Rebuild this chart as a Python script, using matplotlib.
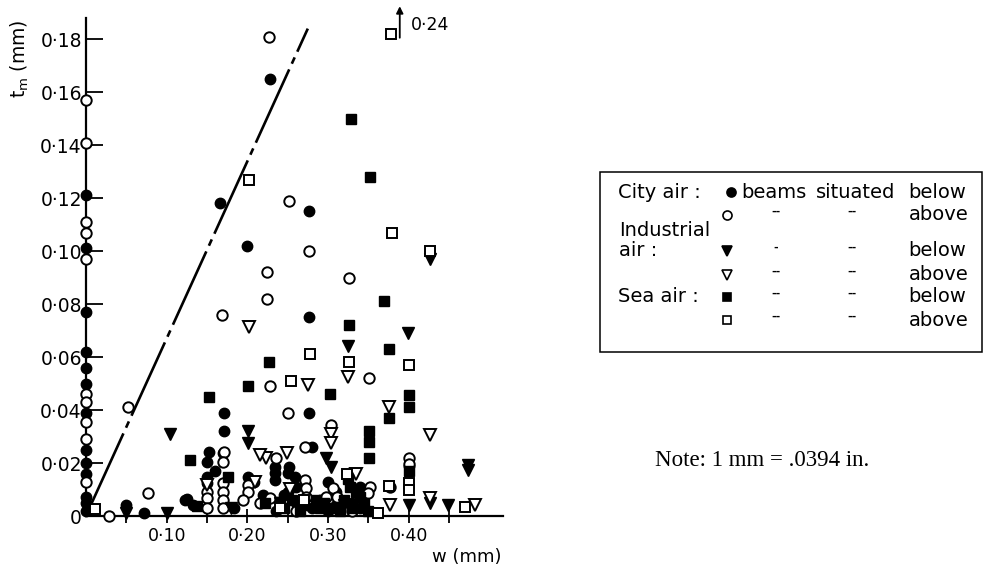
import matplotlib
matplotlib.use("Agg")
import matplotlib.pyplot as plt
from matplotlib.patches import Rectangle

# ---------------- data (w in mm, t_m in mm) ----------------
city_below_x = [0, 0, 0, 0, 0, 0, 0, 0, 0, 0, 0, 0, 0,
                0.050, 0.072, 0.125, 0.123, 0.133, 0.166, 0.228, 0.276, 0.199, 0.276,
                0.171, 0.276, 0.171, 0.152, 0.150, 0.150, 0.150, 0.170, 0.201, 0.183,
                0.234, 0.234, 0.234, 0.252, 0.250, 0.259, 0.280, 0.262, 0.280, 0.290,
                0.310, 0.330, 0.340, 0.401, 0.160, 0.208, 0.245, 0.300,
                0.250, 0.260, 0.310, 0.340, 0.235, 0.300, 0.220]
city_below_y = [0.121, 0.101, 0.077, 0.062, 0.056, 0.050, 0.039, 0.025, 0.020, 0.016, 0.007, 0.005, 0.002,
                0.004, 0.001, 0.0063, 0.006, 0.004, 0.118, 0.165, 0.115, 0.102, 0.075,
                0.039, 0.039, 0.032, 0.024, 0.0205, 0.0148, 0.0123, 0.0237, 0.0148, 0.003,
                0.0186, 0.0161, 0.0136, 0.0186, 0.0161, 0.0148, 0.026, 0.004, 0.003, 0.006,
                0.004, 0.005, 0.003, 0.019, 0.017, 0.013, 0.008, 0.002,
                0.009, 0.011, 0.009, 0.011, 0.002, 0.013, 0.008]

city_above_x = [0, 0, 0, 0, 0, 0, 0, 0, 0, 0,
                0.028, 0.052, 0.077, 0.227, 0.252, 0.276, 0.225, 0.326, 0.225, 0.169,
                0.351, 0.228, 0.250, 0.304, 0.171, 0.170, 0.235, 0.150, 0.150, 0.150,
                0.170, 0.170, 0.170, 0.170, 0.201, 0.201, 0.195, 0.272, 0.271, 0.273,
                0.273, 0.228, 0.216, 0.306, 0.298, 0.311, 0.352, 0.350, 0.377, 0.401,
                0.401, 0.330, 0.260]
city_above_y = [0.157, 0.141, 0.111, 0.107, 0.097, 0.046, 0.043, 0.0355, 0.029, 0.013,
                0.0, 0.041, 0.0088, 0.181, 0.119, 0.100, 0.092, 0.090, 0.082, 0.076,
                0.052, 0.049, 0.039, 0.0344, 0.024, 0.0205, 0.022, 0.0092, 0.0067, 0.0029,
                0.0123, 0.0092, 0.006, 0.0029, 0.0117, 0.009, 0.006, 0.026, 0.0136, 0.0105,
                0.0071, 0.0067, 0.0048, 0.0105, 0.0073, 0.0073, 0.0111, 0.0086, 0.011, 0.0218,
                0.0195, 0.002, 0.002]

ind_below_x = [0.050, 0.100, 0.104, 0.201, 0.201, 0.325, 0.399, 0.427, 0.298, 0.304,
               0.401, 0.426, 0.449, 0.474, 0.474, 0.180, 0.240, 0.320]
ind_below_y = [0.001, 0.001, 0.031, 0.032, 0.0275, 0.064, 0.069, 0.097, 0.0218, 0.0186,
               0.0042, 0.0048, 0.0042, 0.0193, 0.0174, 0.003, 0.005, 0.004]

ind_above_x = [0.202, 0.325, 0.2755, 0.376, 0.304, 0.304, 0.223, 0.249, 0.150, 0.253,
               0.335, 0.377, 0.426, 0.426, 0.482, 0.216, 0.210]
ind_above_y = [0.0715, 0.0526, 0.0495, 0.0413, 0.031, 0.0276, 0.0218, 0.0237, 0.0117, 0.0101,
               0.0159, 0.0042, 0.0306, 0.0067, 0.0042, 0.023, 0.013]

sea_below_x = [0.129, 0.137, 0.328, 0.352, 0.370, 0.326, 0.376, 0.227, 0.201, 0.302,
               0.152, 0.376, 0.351, 0.351, 0.351, 0.401, 0.401, 0.176, 0.240, 0.222,
               0.327, 0.320, 0.340, 0.330, 0.290, 0.270, 0.401,
               0.245, 0.255, 0.265, 0.285, 0.295, 0.305, 0.315, 0.335, 0.345, 0.350, 0.325]
sea_below_y = [0.021, 0.0038, 0.150, 0.128, 0.081, 0.072, 0.063, 0.058, 0.049, 0.046,
               0.045, 0.037, 0.032, 0.028, 0.0218, 0.0457, 0.0413, 0.0148, 0.0054, 0.0048,
               0.0111, 0.006, 0.007, 0.003, 0.003, 0.004, 0.017,
               0.003, 0.006, 0.002, 0.006, 0.005, 0.003, 0.002, 0.009, 0.005, 0.002, 0.014]

sea_above_x = [0.011, 0.202, 0.378, 0.380, 0.427, 0.278, 0.326, 0.401, 0.254, 0.323,
               0.362, 0.376, 0.401, 0.401, 0.470, 0.240, 0.270]
sea_above_y = [0.0026, 0.127, 0.182, 0.107, 0.100, 0.061, 0.058, 0.057, 0.051, 0.0159,
               0.0012, 0.0113, 0.0123, 0.0098, 0.0035, 0.003, 0.006]

limit_x = [0.005, 0.275]
limit_y = [0.0035, 0.184]

x_ticks = [0.05, 0.10, 0.15, 0.20, 0.25, 0.30, 0.35, 0.40, 0.45]
x_tick_labels = ['', '0·10', '', '0·20', '', '0·30', '', '0·40', '']
y_ticks = [0, 0.02, 0.04, 0.06, 0.08, 0.10, 0.12, 0.14, 0.16, 0.18]
y_tick_labels = ['0', '0·02', '0·04', '0·06', '0·08', '0·10', '0·12', '0·14', '0·16', '0·18']

# ---------------- figure ----------------
W, H = 989, 571
fig = plt.figure(figsize=(W / 100, H / 100), dpi=100)
fig.patch.set_facecolor('white')
plt.rcParams['lines.scale_dashes'] = False

ax = fig.add_axes([86 / W, 55 / H, (503 - 86) / W, (516 - 18) / H])
ax.set_xlim(0, 0.517)
ax.set_ylim(0, 0.188)
for s in ['top', 'right']:
    ax.spines[s].set_visible(False)
for s in ['left', 'bottom']:
    ax.spines[s].set_linewidth(1.6)

ax.set_xticks(x_ticks)
ax.set_xticklabels(x_tick_labels, fontsize=12.5)
ax.set_yticks(y_ticks)
ax.set_yticklabels(y_tick_labels, fontsize=13.5)
ax.tick_params(axis='x', direction='inout', length=10, width=1.3, pad=3)
ax.tick_params(axis='y', direction='in', length=12, width=1.3, pad=3)

ms_o = 7.5
mew = 1.4
kw = dict(linestyle='none', clip_on=False, zorder=3)
ax.plot(city_below_x, city_below_y, marker='o', ms=ms_o, mfc='black', mec='black', **kw)
ax.plot(city_above_x, city_above_y, marker='o', ms=ms_o, mfc='white', mec='black', mew=mew, **kw)
ax.plot(ind_below_x, ind_below_y, marker='v', ms=8.5, mfc='black', mec='black', **kw)
ax.plot(ind_above_x, ind_above_y, marker='v', ms=8.5, mfc='white', mec='black', mew=mew, **kw)
ax.plot(sea_below_x, sea_below_y, marker='s', ms=6.5, mfc='black', mec='black', **kw)
ax.plot(sea_above_x, sea_above_y, marker='s', ms=6.5, mfc='white', mec='black', mew=mew, **kw)

ax.plot(limit_x, limit_y, color='black', lw=1.9, dashes=(58, 4.5, 5, 4.5),
        solid_capstyle='butt', dash_capstyle='butt', zorder=2)

# arrow for off-scale value 0.24
ax.annotate('', xy=(0.389, 0.1935), xytext=(0.389, 0.1795),
            arrowprops=dict(arrowstyle='-|>', color='black', lw=1.3, mutation_scale=10),
            annotation_clip=False)
ax.text(0.4025, 0.1855, '0·24', fontsize=12.5, va='center', ha='left', clip_on=False)

# axis titles
fig.text(20 / W, 1 - 59 / H, r'$\mathregular{t_m}$ (mm)', rotation=90, fontsize=13.5,
         ha='center', va='center')
fig.text(467 / W, 1 - 557 / H, 'w (mm)', fontsize=13, ha='center', va='center')

# ---------------- legend box (pixel coordinates) ----------------
lax = fig.add_axes([0, 0, 1, 1], zorder=-1)
lax.set_xlim(0, W)
lax.set_ylim(H, 0)
lax.axis('off')
lax.add_patch(Rectangle((600, 172), 382, 180, fill=False, lw=1.1, ec='black'))
fs = 14
lax.text(618, 192, 'City air :', fontsize=fs, va='center')
lax.text(619, 231, 'Industrial', fontsize=fs, va='center')
lax.text(619, 251, 'air :', fontsize=fs, va='center')
lax.text(618, 297, 'Sea air :', fontsize=fs, va='center')
lax.text(741, 192, 'beams', fontsize=fs, va='center')
lax.text(816, 192, 'situated', fontsize=fs, va='center')
lax.text(908, 192, 'below', fontsize=fs, va='center')
rows_y = [192, 215, 251, 275, 297, 320]
words = ['below', 'above', 'below', 'above', 'below', 'above']
marks = [('o', 'black'), ('o', 'white'), ('v', 'black'), ('v', 'white'), ('s', 'black'), ('s', 'white')]
msz = [6.5, 6.5, 7.5, 7.5, 5.5, 5.5]
for i, (yy, wd, (mk, fc), m) in enumerate(zip(rows_y, words, marks, msz)):
    mx = 731 if i == 0 else 727
    lax.plot([mx], [yy], marker=mk, ms=m, mfc=fc, mec='black', mew=1.2, linestyle='none')
    if i > 0:
        lax.text(776, yy - 3, '-' if i == 2 else '--', fontsize=8, fontweight='bold',
                 ha='center', va='center')
        lax.text(852, yy - 3, '--', fontsize=8, fontweight='bold', ha='center', va='center')
        if wd == 'below':
            lax.text(908, yy, wd, fontsize=fs, va='center')
        else:
            lax.text(969, yy, wd, fontsize=fs, va='center', ha='right')

fig.text(655 / W, 1 - 466 / H, 'Note: 1 mm = .0394 in.', fontsize=16.5,
         family='Liberation Serif', ha='left', va='baseline')

fig.savefig('out.png', dpi=100)
